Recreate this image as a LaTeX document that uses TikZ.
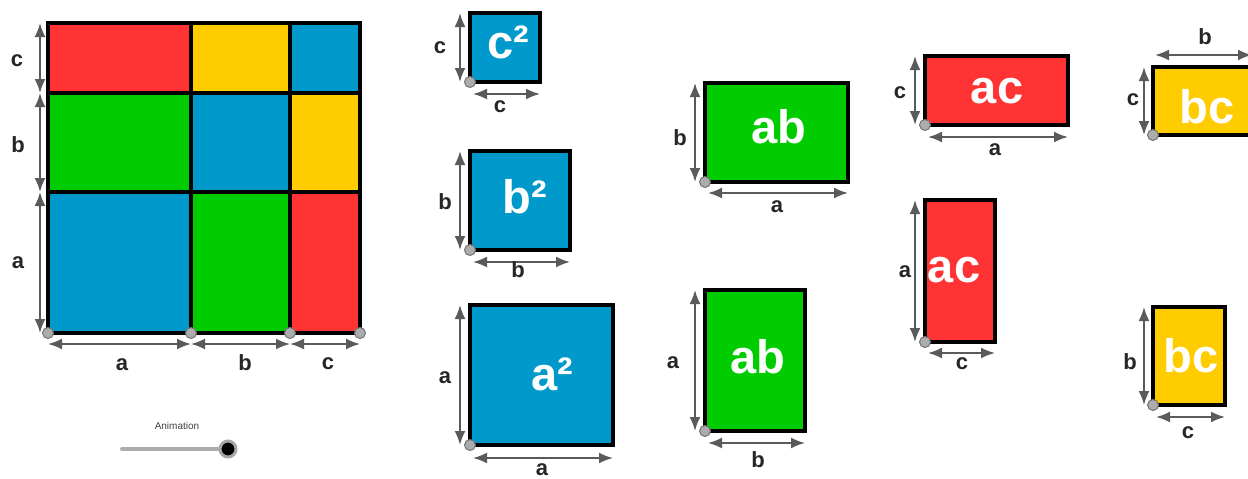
\documentclass[tikz,border=0pt]{standalone}
\usepackage{fontspec}
\setmainfont{Liberation Sans}
\usetikzlibrary{arrows.meta}
\definecolor{cred}{RGB}{255,51,51}
\definecolor{cyel}{RGB}{255,204,0}
\definecolor{cblue}{RGB}{0,153,204}
\definecolor{cgreen}{RGB}{0,204,0}
\definecolor{dimgray}{RGB}{90,90,90}
\tikzset{
  cell/.style={draw=black, line width=4pt, line join=miter},
  dimline/.style={draw=dimgray, line width=2pt, {Latex[length=14pt,width=11pt]}-{Latex[length=14pt,width=11pt]}},
  dimlab/.style={font=\bfseries\fontsize{22}{24}\selectfont, text=black!85, inner sep=0pt},
  area/.style={font=\bfseries\fontsize{47}{50}\selectfont, text=white, inner sep=0pt, anchor=base},
  corner/.style={circle, fill=gray!65, draw=black!55, line width=1pt, minimum size=11pt, inner sep=0pt},
}
\begin{document}
\begin{tikzpicture}[x=1pt,y=-1pt]
\useasboundingbox (0,0) rectangle (1248,479);
\clip (0,0) rectangle (1248,479);
\fill[white] (0,0) rectangle (1248,479);

% ---------- main square ----------
\draw[cell, fill=cred]   (48,23)  rectangle (191,93);
\draw[cell, fill=cyel]   (191,23) rectangle (290,93);
\draw[cell, fill=cblue]  (290,23) rectangle (360,93);
\draw[cell, fill=cgreen] (48,93)  rectangle (191,192);
\draw[cell, fill=cblue]  (191,93) rectangle (290,192);
\draw[cell, fill=cyel]   (290,93) rectangle (360,192);
\draw[cell, fill=cblue]  (48,192) rectangle (191,333);
\draw[cell, fill=cgreen] (191,192) rectangle (290,333);
\draw[cell, fill=cred]   (290,192) rectangle (360,333);

\coordinate (m0) at (40,23); \coordinate (m1) at (40,93);
\coordinate (m2) at (40,192); \coordinate (m3) at (40,333);
\draw[dimline] (m0) -- (m1);
\draw[dimline] (m1) -- (m2);
\draw[dimline] (m2) -- (m3);
\node[dimlab] (mlc) at (17,61) {c};
\node[dimlab] (mlb) at (18,145) {b};
\node[dimlab] (mla) at (18,263) {a};

\coordinate (n0) at (48,344); \coordinate (n1) at (191,344);
\coordinate (n2) at (290,344); \coordinate (n3) at (360,344);
\draw[dimline] (n0) -- (n1);
\draw[dimline] (n1) -- (n2);
\draw[dimline] (n2) -- (n3);
\node[dimlab] (mba) at (122,365) {a};
\node[dimlab] (mbb) at (245,363) {b};
\node[dimlab] (mbc) at (328,364) {c};

\node[corner] (p0) at (48,333) {};
\node[corner] (p1) at (191,333) {};
\node[corner] (p2) at (290,333) {};
\node[corner] (p3) at (360,333) {};

% ---------- slider ----------
\node[font=\fontsize{10}{12}\selectfont, text=black!75] (anim) at (177,426) {Animation};
\coordinate (s0) at (122,449);
\node[circle, fill=black, draw=gray!70, line width=3pt, minimum size=16pt, inner sep=0pt] (knob) at (228,449) {};
\draw[gray!65, line width=4pt, line cap=round] (s0) -- (knob.west);

% ---------- c^2 ----------
\draw[cell, fill=cblue] (470,13) rectangle (540,82);
\node[area] (tc2) at (508,58) {c²};
\draw[dimline] (460,13) -- (460,82);
\draw[dimline] (473,94) -- (540,94);
\node[dimlab] (c2l) at (440,48) {c};
\node[dimlab] (c2b) at (500,107) {c};
\node[corner] (c2p) at (470,82) {};

% ---------- b^2 ----------
\draw[cell, fill=cblue] (470,151) rectangle (570,250);
\node[area] (tb2) at (525,213) {b²};
\draw[dimline] (460,151) -- (460,250);
\draw[dimline] (473,262) -- (570,262);
\node[dimlab] (b2l) at (445,202) {b};
\node[dimlab] (b2b) at (518,270) {b};
\node[corner] (b2p) at (470,250) {};

% ---------- a^2 ----------
\draw[cell, fill=cblue] (470,305) rectangle (613,445);
\node[area] (ta2) at (552,390) {a²};
\draw[dimline] (460,305) -- (460,445);
\draw[dimline] (473,458) -- (613,458);
\node[dimlab] (a2l) at (445,378) {a};
\node[dimlab] (a2b) at (542,470) {a};
\node[corner] (a2p) at (470,445) {};

% ---------- ab horizontal ----------
\draw[cell, fill=cgreen] (705,83) rectangle (848,182);
\node[area] (tab1) at (779,143) {ab};
\draw[dimline] (695,83) -- (695,182);
\draw[dimline] (708,193) -- (848,193);
\node[dimlab] (ab1l) at (680,138) {b};
\node[dimlab] (ab1b) at (777,207) {a};
\node[corner] (ab1p) at (705,182) {};

% ---------- ab vertical ----------
\draw[cell, fill=cgreen] (705,290) rectangle (805,431);
\node[area] (tab2) at (758,373) {ab};
\draw[dimline] (695,290) -- (695,431);
\draw[dimline] (708,443) -- (805,443);
\node[dimlab] (ab2l) at (673,363) {a};
\node[dimlab] (ab2b) at (758,460) {b};
\node[corner] (ab2p) at (705,431) {};

% ---------- ac horizontal ----------
\draw[cell, fill=cred] (925,56) rectangle (1068,125);
\node[area] (tac1) at (997,103) {ac};
\draw[dimline] (915,56) -- (915,125);
\draw[dimline] (928,137) -- (1068,137);
\node[dimlab] (ac1l) at (900,93) {c};
\node[dimlab] (ac1b) at (995,150) {a};
\node[corner] (ac1p) at (925,125) {};

% ---------- ac vertical ----------
\draw[cell, fill=cred] (925,200) rectangle (995,342);
\node[area] (tac2) at (954,282) {ac};
\draw[dimline] (915,200) -- (915,342);
\draw[dimline] (928,353) -- (995,353);
\node[dimlab] (ac2l) at (905,272) {a};
\node[dimlab] (ac2b) at (962,364) {c};
\node[corner] (ac2p) at (925,342) {};

% ---------- bc horizontal ----------
\draw[cell, fill=cyel] (1153,67) rectangle (1252,135);
\node[area] (tbc1) at (1207,123) {bc};
\draw[dimline] (1144,67) -- (1144,135);
\draw[dimline] (1155,55) -- (1252,55);
\node[dimlab] (bc1t) at (1205,37) {b};
\node[dimlab] (bc1l) at (1133,100) {c};
\node[corner] (bc1p) at (1153,135) {};

% ---------- bc vertical ----------
\draw[cell, fill=cyel] (1153,307) rectangle (1225,405);
\node[area] (tbc2) at (1191,372) {bc};
\draw[dimline] (1144,307) -- (1144,405);
\draw[dimline] (1156,417) -- (1225,417);
\node[dimlab] (bc2l) at (1130,362) {b};
\node[dimlab] (bc2b) at (1188,433) {c};
\node[corner] (bc2p) at (1153,405) {};
\end{tikzpicture}
\end{document}
